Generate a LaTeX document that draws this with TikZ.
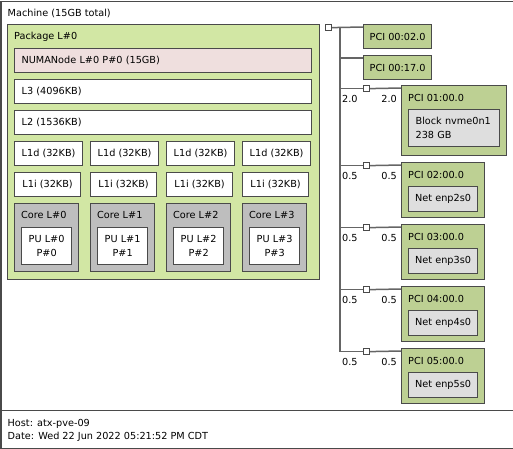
\documentclass[tikz,border=0pt]{standalone}
\usepackage{fontspec}
\setmainfont{DejaVu Sans}
\usepackage{xcolor}
\usepackage{tikz}
\usetikzlibrary{positioning}

\definecolor{edgec}{HTML}{4A4A4A}
\definecolor{epoxy}{HTML}{D2E7A4}
\definecolor{epoxydark}{HTML}{BDD093}
\definecolor{numac}{HTML}{EFDFDE}
\definecolor{corec}{HTML}{BEBEBE}
\definecolor{osdevc}{HTML}{DEDEDE}

\begin{document}
\begin{tikzpicture}[
    x=1pt, y=-1pt,
    font=\fontsize{9.7pt}{14pt}\selectfont,
    obj/.style={rectangle, draw=edgec, line width=1.2pt, inner sep=0pt, anchor=north west},
    title/.style={anchor=west, inner sep=0pt},
    bar/.style={obj, fill=white, minimum height=24pt, inner xsep=7pt, text width=283pt, align=left},
    cache/.style={obj, fill=white, minimum height=24pt},
    core/.style={obj, fill=corec, minimum width=64pt, minimum height=68pt},
    pu/.style={obj, fill=white, minimum width=50pt, minimum height=37pt, align=center},
    bridge/.style={obj, fill=white, minimum size=6pt},
    pcidev/.style={obj, fill=epoxydark},
    osdev/.style={obj, fill=osdevc},
    link/.style={draw=edgec!85, line width=1.5pt},
    speed/.style={anchor=west, inner sep=0pt}
]
    \useasboundingbox (0,0) rectangle (513,448);

    \node (machine) [obj, fill=white, minimum width=512pt, minimum height=409pt] at (0.5,0.5) {};
    \node (machinelbl) [title] at ([shift={(7,13)}]machine.north west) {Machine (15GB total)};

    \node (pkg) [obj, fill=epoxy, minimum width=312pt, minimum height=255pt] at (7,24) {};
    \node (pkglbl) [title] at ([shift={(7,13)}]pkg.north west) {Package L\#0};
    \node (numa) [bar, fill=numac] at (14,48) {NUMANode L\#0 P\#0 (15GB)};
    \node (l3) [bar] at (14,79) {L3 (4096KB)};
    \node (l2) [bar] at (14,110) {L2 (1536KB)};

    \node (l1d0) [cache, minimum width=68pt] at (14,141) {L1d (32KB)};
    \node (l1d1) [cache, minimum width=68pt] at (90,141) {L1d (32KB)};
    \node (l1d2) [cache, minimum width=68pt] at (166,141) {L1d (32KB)};
    \node (l1d3) [cache, minimum width=68pt] at (242,141) {L1d (32KB)};

    \node (l1i0) [cache, minimum width=66pt] at (14,172) {L1i (32KB)};
    \node (l1i1) [cache, minimum width=66pt] at (90,172) {L1i (32KB)};
    \node (l1i2) [cache, minimum width=66pt] at (166,172) {L1i (32KB)};
    \node (l1i3) [cache, minimum width=66pt] at (242,172) {L1i (32KB)};

    \node (core0) [core] at (14,203) {};
    \node (core1) [core] at (90,203) {};
    \node (core2) [core] at (166,203) {};
    \node (core3) [core] at (242,203) {};
    \node (core0lbl) [title] at ([shift={(7,12)}]core0.north west) {Core L\#0};
    \node (core1lbl) [title] at ([shift={(7,12)}]core1.north west) {Core L\#1};
    \node (core2lbl) [title] at ([shift={(7,12)}]core2.north west) {Core L\#2};
    \node (core3lbl) [title] at ([shift={(7,12)}]core3.north west) {Core L\#3};

    \node (pu0) [pu] at (21,227) {PU L\#0\\P\#0};
    \node (pu1) [pu] at (97,227) {PU L\#1\\P\#1};
    \node (pu2) [pu] at (173,227) {PU L\#2\\P\#2};
    \node (pu3) [pu] at (249,227) {PU L\#3\\P\#3};

    \node (hostbr) [bridge] at (325,24) {};
    \node (pci0002) [pcidev, minimum width=68pt, minimum height=24pt] at (363,24) {PCI 00:02.0};
    \node (pci0017) [pcidev, minimum width=68pt, minimum height=24pt] at (363,55) {PCI 00:17.0};

    \node (br1) [bridge] at (363,85) {};
    \node (br2) [bridge] at (363,162) {};
    \node (br3) [bridge] at (363,224) {};
    \node (br4) [bridge] at (363,286) {};
    \node (br5) [bridge] at (363,348) {};

    \node (pci0100) [pcidev, minimum width=105pt, minimum height=70pt] at (401,85) {};
    \node (pci0200) [pcidev, minimum width=83pt, minimum height=55pt] at (401,162) {};
    \node (pci0300) [pcidev, minimum width=83pt, minimum height=55pt] at (401,224) {};
    \node (pci0400) [pcidev, minimum width=83pt, minimum height=55pt] at (401,286) {};
    \node (pci0500) [pcidev, minimum width=83pt, minimum height=55pt] at (401,348) {};
    \node (pci0100lbl) [title] at ([shift={(7,13)}]pci0100.north west) {PCI 01:00.0};
    \node (pci0200lbl) [title] at ([shift={(7,13)}]pci0200.north west) {PCI 02:00.0};
    \node (pci0300lbl) [title] at ([shift={(7,13)}]pci0300.north west) {PCI 03:00.0};
    \node (pci0400lbl) [title] at ([shift={(7,13)}]pci0400.north west) {PCI 04:00.0};
    \node (pci0500lbl) [title] at ([shift={(7,13)}]pci0500.north west) {PCI 05:00.0};

    \node (nvme) [osdev, minimum width=91pt, minimum height=37pt, inner xsep=7pt, text width=77pt, align=left] at (408,109) {Block nvme0n1\\238 GB};
    \node (enp2) [osdev, minimum width=69pt, minimum height=25pt] at (408,186) {Net enp2s0};
    \node (enp3) [osdev, minimum width=69pt, minimum height=25pt] at (408,248) {Net enp3s0};
    \node (enp4) [osdev, minimum width=69pt, minimum height=25pt] at (408,310) {Net enp4s0};
    \node (enp5) [osdev, minimum width=69pt, minimum height=25pt] at (408,372) {Net enp5s0};

    \coordinate (trunk) at ([xshift=8pt]hostbr.east);
    \draw [link] (hostbr.east) -- ([yshift=-3pt]pci0002.north west);
    \draw [link] (trunk) |- ([yshift=-3pt]pci0017.north west);
    \draw [link] (trunk) |- (br1.west);
    \draw [link] (trunk) |- (br2.west);
    \draw [link] (trunk) |- (br3.west);
    \draw [link] (trunk) |- (br4.west);
    \draw [link] (trunk) |- (br5.west);
    \draw [link] (br1.east) -- ([yshift=-3pt]pci0100.north west);
    \draw [link] (br2.east) -- ([yshift=-3pt]pci0200.north west);
    \draw [link] (br3.east) -- ([yshift=-3pt]pci0300.north west);
    \draw [link] (br4.east) -- ([yshift=-3pt]pci0400.north west);
    \draw [link] (br5.east) -- ([yshift=-3pt]pci0500.north west);

    \node (br1up) [speed] at ([shift={(-21,10)}]br1.west) {2.0};
    \node (br1dn) [speed] at ([shift={(11,10)}]br1.east) {2.0};
    \node (br2up) [speed] at ([shift={(-21,10)}]br2.west) {0.5};
    \node (br2dn) [speed] at ([shift={(11,10)}]br2.east) {0.5};
    \node (br3up) [speed] at ([shift={(-21,10)}]br3.west) {0.5};
    \node (br3dn) [speed] at ([shift={(11,10)}]br3.east) {0.5};
    \node (br4up) [speed] at ([shift={(-21,10)}]br4.west) {0.5};
    \node (br4dn) [speed] at ([shift={(11,10)}]br4.east) {0.5};
    \node (br5up) [speed] at ([shift={(-21,10)}]br5.west) {0.5};
    \node (br5dn) [speed] at ([shift={(11,10)}]br5.east) {0.5};

    \node (legend) [obj, fill=white, minimum width=512pt, minimum height=38pt] at (0.5,409.5) {};
    \node (host) [title] at ([shift={(7,14)}]legend.north west) {Host: atx-pve-09};
    \node (date) [title] at ([shift={(7,27)}]legend.north west) {Date: Wed 22 Jun 2022 05:21:52 PM CDT};
\end{tikzpicture}
\end{document}
